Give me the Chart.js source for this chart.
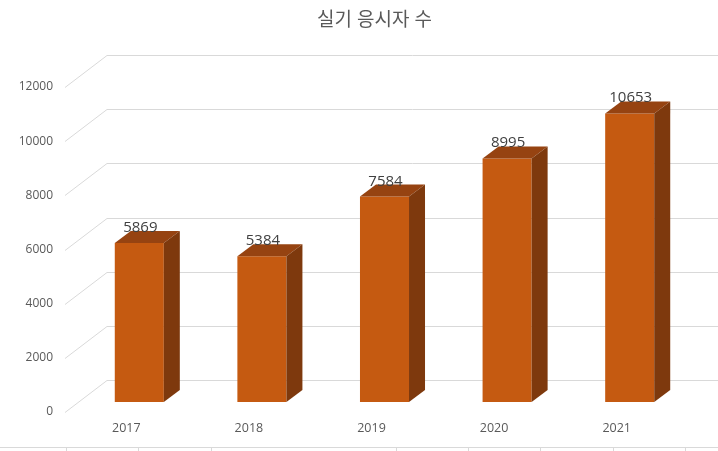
<!DOCTYPE html>
<html>
<head>
<meta charset="utf-8">
<script src="https://cdn.jsdelivr.net/npm/chart.js@4/dist/chart.umd.min.js"></script>
<style>
  html, body { margin: 0; background: #fff; }
  #wrap { width: 718px; height: 451px; }
</style>
</head>
<body>
<div id="wrap"><canvas id="chart"></canvas></div>
<script>
const years = ['2017', '2018', '2019', '2020', '2021'];
const examinees = [5869, 5384, 7584, 8995, 10653];
const yTicks = [0, 2000, 4000, 6000, 8000, 10000, 12000];
const chartTitle = '실기 응시자 수';

const FONT = "'Open Sans', 'Noto Sans CJK KR', sans-serif";
// offsets of the other planes, relative to the bars' front face
const FRONT = { dx: -13, dy: 10 };
const BACK = { dx: 29, dy: -22 };
const DEPTH = { dx: 16, dy: -12 };

const box3d = {
    id: 'box3d',
    beforeDatasetsDraw(chart) {
        const { ctx, chartArea: a, scales: { x, y } } = chart;
        ctx.save();

        // title, centred over the whole plot box
        ctx.fillStyle = '#595959';
        ctx.font = '19px ' + FONT;
        ctx.textAlign = 'center';
        ctx.textBaseline = 'middle';
        ctx.fillText(chartTitle, (a.left + FRONT.dx + chart.width) / 2 - 17, 20.5);

        // walls: oblique floor-to-back lines and back gridlines
        ctx.strokeStyle = '#d9d9d9';
        ctx.lineWidth = 1;
        yTicks.forEach(v => {
            const py = Math.round(y.getPixelForValue(v)) + 0.5;
            ctx.beginPath();
            ctx.moveTo(a.left + FRONT.dx, py + FRONT.dy);
            ctx.lineTo(a.left + BACK.dx, py + BACK.dy);
            ctx.lineTo(chart.width, py + BACK.dy);
            ctx.stroke();
        });

        // rule at the very bottom
        const ry = chart.height - 3.5;
        ctx.beginPath();
        ctx.moveTo(0, ry);
        ctx.lineTo(chart.width, ry);
        [66, 138, 211, 396, 468, 540, 613, 685].forEach(tx => {
            ctx.moveTo(tx + 0.5, ry);
            ctx.lineTo(tx + 0.5, chart.height);
        });
        ctx.stroke();

        // value axis labels
        ctx.font = '12px ' + FONT;
        ctx.textAlign = 'right';
        yTicks.forEach(v => {
            ctx.fillText(String(v), a.left + FRONT.dx - 12, y.getPixelForValue(v) + FRONT.dy);
        });

        // category labels
        ctx.textAlign = 'center';
        ctx.font = '12.5px ' + FONT;
        years.forEach((c, i) => {
            ctx.fillText(c, x.getPixelForValue(i) + FRONT.dx, a.bottom + FRONT.dy + 16);
        });
        ctx.restore();
    },
    afterDatasetsDraw(chart) {
        const { ctx } = chart;
        const meta = chart.getDatasetMeta(0);
        ctx.save();
        meta.data.forEach((bar, i) => {
            const l = bar.x - bar.width / 2, r = bar.x + bar.width / 2;
            const t = bar.y, b = bar.base;

            // top face
            ctx.fillStyle = '#964311';
            ctx.beginPath();
            ctx.moveTo(l, t);
            ctx.lineTo(l + DEPTH.dx, t + DEPTH.dy);
            ctx.lineTo(r + DEPTH.dx, t + DEPTH.dy);
            ctx.lineTo(r, t);
            ctx.closePath();
            ctx.fill();

            // side face
            ctx.fillStyle = '#7e390d';
            ctx.beginPath();
            ctx.moveTo(r, t);
            ctx.lineTo(r + DEPTH.dx, t + DEPTH.dy);
            ctx.lineTo(r + DEPTH.dx, b + DEPTH.dy);
            ctx.lineTo(r, b);
            ctx.closePath();
            ctx.fill();

            // value label
            ctx.fillStyle = '#404040';
            ctx.font = '15px ' + FONT;
            ctx.textAlign = 'center';
            ctx.textBaseline = 'alphabetic';
            ctx.fillText(String(examinees[i]), bar.x + 1, t - 11);
        });
        ctx.restore();
    }
};

new Chart(document.getElementById('chart'), {
    type: 'bar',
    data: {
        labels: years,
        datasets: [{
            data: examinees,
            backgroundColor: '#c55a11',
            borderWidth: 0,
            barPercentage: 0.4,
            categoryPercentage: 1
        }]
    },
    options: {
        responsive: true,
        maintainAspectRatio: false,
        animation: false,
        layout: { padding: { left: 78, right: 27, top: 77, bottom: 49 } },
        scales: {
            x: { display: false },
            y: { display: false, min: 0, max: 12000 }
        },
        plugins: {
            legend: { display: false },
            tooltip: { enabled: false },
            title: { display: false }
        }
    },
    plugins: [box3d]
});
</script>
</body>
</html>
